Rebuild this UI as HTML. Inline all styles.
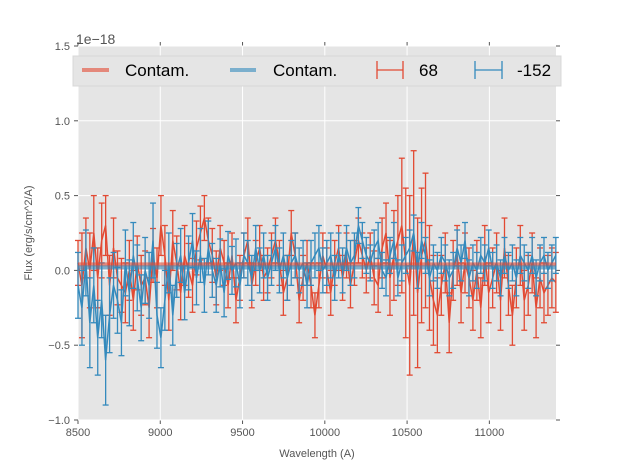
<!DOCTYPE html>
<html><head><meta charset="utf-8"><style>
html,body{margin:0;padding:0;background:#fff;}
svg{display:block;font-family:"Liberation Sans",sans-serif;}
</style></head><body>
<svg id="chart" width="617" height="467"></svg>
<script>
const redVals=[0.05,-0.1,0.15,0.0,0.25,-0.05,0.2,0.3,-0.1,0.15,-0.05,-0.1,-0.15,0.0,-0.2,0.05,-0.1,-0.05,-0.25,0.1,-0.05,
0.3,0.1,-0.2,0.2,0.05,-0.15,0.1,0.0,-0.1,0.15,0.25,0.35,0.2,0.1,-0.05,0.15,0.05,-0.1,0.1,-0.2,
-0.05,0.1,0.2,-0.1,0.05,0.15,-0.05,0.0,0.1,0.2,0.05,-0.15,-0.05,0.25,0.1,-0.2,-0.05,0.05,-0.1,-0.3,
-0.1,0.1,0.0,-0.15,0.05,0.15,-0.05,0.1,-0.1,0.05,0.2,0.1,0.0,0.1,-0.05,-0.1,0.15,0.25,-0.05,0.1,
0.2,0.3,0.05,-0.1,0.25,-0.15,0.1,0.2,-0.05,-0.2,-0.3,-0.1,0.05,-0.35,0.0,0.1,-0.15,0.05,-0.05,-0.2,
0.0,-0.25,0.1,-0.15,-0.05,0.05,-0.2,0.15,-0.1,-0.3,-0.05,0.1,-0.2,-0.1,0.05,-0.25,-0.05,-0.15,-0.1,-0.05,-0.08];
const redErr=[0.15,0.35,0.2,0.25,0.25,0.2,0.25,0.2,0.2,0.2,0.18,0.18,0.2,0.2,0.2,0.18,0.2,0.18,0.2,0.18,0.2,
0.2,0.2,0.2,0.2,0.18,0.18,0.2,0.18,0.18,0.18,0.18,0.15,0.15,0.18,0.18,0.15,0.15,0.15,0.15,0.15,
0.15,0.15,0.15,0.15,0.15,0.15,0.15,0.15,0.15,0.15,0.15,0.15,0.15,0.15,0.15,0.15,0.15,0.15,0.15,0.15,
0.15,0.15,0.15,0.15,0.15,0.15,0.15,0.15,0.15,0.15,0.15,0.15,0.15,0.15,0.18,0.18,0.2,0.2,0.25,0.3,
0.3,0.45,0.5,0.6,0.55,0.5,0.45,0.45,0.35,0.3,0.25,0.2,0.2,0.2,0.2,0.2,0.2,0.2,0.2,0.2,
0.2,0.2,0.2,0.2,0.2,0.2,0.2,0.2,0.2,0.2,0.2,0.2,0.2,0.2,0.2,0.2,0.2,0.2,0.2,0.2,0.2];
const blueVals=[-0.1,-0.25,0.05,-0.35,-0.1,-0.45,-0.2,-0.6,-0.3,-0.1,-0.2,-0.35,0.05,-0.15,0.1,-0.05,-0.25,0.0,-0.1,0.2,-0.3,
-0.45,-0.2,0.05,-0.3,0.0,0.1,-0.15,0.05,0.2,-0.05,0.1,-0.1,0.15,0.0,-0.1,0.05,-0.15,0.1,0.0,0.05,
-0.1,0.1,0.05,-0.05,0.15,0.0,0.1,-0.05,0.05,0.15,0.0,0.1,-0.05,0.05,0.1,0.0,0.05,-0.1,0.05,0.1,
0.15,0.0,0.05,0.1,-0.05,0.1,0.0,0.15,0.05,0.1,0.3,0.2,0.1,0.05,0.15,0.2,0.0,-0.05,0.1,0.2,
-0.05,0.05,0.1,0.15,0.25,0.0,0.2,0.1,-0.05,0.05,0.0,0.1,0.05,-0.05,0.0,0.15,0.05,0.2,-0.05,0.05,
0.0,0.1,0.05,0.15,0.0,0.05,-0.05,0.1,0.0,0.05,-0.05,0.1,0.05,0.0,0.1,-0.05,0.05,0.1,0.0,0.05,0.1];
const blueErr=[0.22,0.25,0.22,0.3,0.25,0.25,0.25,0.3,0.25,0.22,0.22,0.22,0.22,0.22,0.22,0.22,0.22,0.22,0.22,0.25,0.22,
0.2,0.2,0.2,0.2,0.18,0.18,0.18,0.18,0.18,0.18,0.18,0.18,0.18,0.18,0.18,0.16,0.16,0.16,0.16,0.16,
0.15,0.15,0.15,0.15,0.15,0.15,0.15,0.15,0.15,0.15,0.15,0.15,0.15,0.15,0.15,0.15,0.15,0.15,0.15,0.15,
0.15,0.15,0.15,0.15,0.15,0.15,0.15,0.15,0.15,0.15,0.12,0.12,0.12,0.12,0.12,0.12,0.12,0.12,0.12,0.12,
0.12,0.12,0.12,0.12,0.12,0.12,0.12,0.12,0.12,0.12,0.12,0.12,0.12,0.12,0.12,0.12,0.12,0.12,0.12,0.12,
0.12,0.12,0.12,0.12,0.12,0.12,0.12,0.12,0.12,0.12,0.12,0.12,0.12,0.12,0.12,0.12,0.12,0.12,0.12,0.12,0.12];
const redContam=0.04;
const blueContam=0.02;
const waveStart=8500, waveStep=24;
const xTicks=[8500,9000,9500,10000,10500,11000];
const yTicks=[-1.0,-0.5,0.0,0.5,1.0,1.5];
const yTickLabels=["\u22121.0","\u22120.5","0.0","0.5","1.0","1.5"];

const L=78,R=556,T=46,B=420,XMIN=8500,XMAX=11405,YMIN=-1,YMAX=1.5;
const sx=v=>L+(v-XMIN)/(XMAX-XMIN)*(R-L);
const sy=v=>B-(v-YMIN)/(YMAX-YMIN)*(B-T);
const NS="http://www.w3.org/2000/svg";
const svg=document.getElementById('chart');
function mk(tag,attrs,parent){const e=document.createElementNS(NS,tag);for(const k in attrs)e.setAttribute(k,attrs[k]);(parent||svg).appendChild(e);return e;}

const bg=mk('rect',{x:L,y:T,width:R-L,height:B-T,fill:'#e5e5e5'});


xTicks.forEach(t=>{const g=mk('line',{x1:sx(t),x2:sx(t),y1:T,y2:B,stroke:'#fff','stroke-width':1});


const tk=mk('line',{x1:sx(t),x2:sx(t),y1:B,y2:B+4,stroke:'#555'});


mk('line',{x1:sx(t),x2:sx(t),y1:T-4,y2:T,stroke:'#555'});
const tx=mk('text',{x:sx(t),y:B+16,'text-anchor':'middle','font-size':11,fill:'#555'});tx.textContent=t;

});
yTicks.forEach((t,i)=>{const g=mk('line',{x1:L,x2:R,y1:sy(t),y2:sy(t),stroke:'#fff','stroke-width':1});


mk('line',{x1:L-4,x2:L,y1:sy(t),y2:sy(t),stroke:'#555'});
mk('line',{x1:R,x2:R+4,y1:sy(t),y2:sy(t),stroke:'#555'});
const tx=mk('text',{x:L-8,y:sy(t)+4,'text-anchor':'end','font-size':11,fill:'#555'});tx.textContent=yTickLabels[i];

});

function series(vals,errs,color,name){
  const g=mk('g',{});
  
  
  vals.forEach((v,i)=>{const x=sx(waveStart+i*waveStep);const y1=sy(v+errs[i]),y2=sy(v-errs[i]);
    mk('line',{x1:x,x2:x,y1:y1,y2:y2,stroke:color,'stroke-width':1.3},g);
    mk('line',{x1:x-3,x2:x+3,y1:y1,y2:y1,stroke:color,'stroke-width':1.3},g);
    mk('line',{x1:x-3,x2:x+3,y1:y2,y2:y2,stroke:color,'stroke-width':1.3},g);});
  const pts=vals.map((v,i)=>sx(waveStart+i*waveStep).toFixed(1)+','+sy(v).toFixed(1)).join(' ');
  mk('polyline',{points:pts,fill:'none',stroke:color,'stroke-width':1.5},g);
}
series(redVals,redErr,'#E24A33','red-series-68');
series(blueVals,blueErr,'#348ABD','blue-series-152');
const rc=mk('line',{x1:L,x2:R,y1:sy(redContam),y2:sy(redContam),stroke:'#E24A33','stroke-width':4,'stroke-opacity':0.6});


const bc=mk('line',{x1:L,x2:R,y1:sy(blueContam),y2:sy(blueContam),stroke:'#348ABD','stroke-width':4,'stroke-opacity':0.6});


</script>
<svg width="617" height="467" style="position:absolute;left:0;top:0">
  <text x="76" y="44" font-size="14" fill="#555">1e−18</text>
  <text x="317" y="457" font-size="11" fill="#555" text-anchor="middle">Wavelength (A)</text>
  <text transform="translate(32,233) rotate(-90)" font-size="11" fill="#555" text-anchor="middle">Flux (erg/s/cm^2/A)</text>
  <g>
    <rect x="73" y="56" width="488" height="30" fill="#e5e5e5" stroke="#d8d8d8"/>
    <g>
      <line x1="82" x2="109" y1="70" y2="70" stroke="#E24A33" stroke-opacity="0.6" stroke-width="4"/>
      <text x="125" y="76" font-size="17" fill="#000">Contam.</text>
    </g>
    <g>
      <line x1="230" x2="256" y1="70" y2="70" stroke="#348ABD" stroke-opacity="0.6" stroke-width="4"/>
      <text x="273" y="76" font-size="17" fill="#000">Contam.</text>
    </g>
    <g stroke="#E24A33" stroke-width="1.3">
      <line x1="377" x2="403" y1="70" y2="70"/><line x1="377" x2="377" y1="61" y2="79"/><line x1="403" x2="403" y1="61" y2="79"/>
      <text x="419" y="76" font-size="17" fill="#000" stroke="none">68</text>
    </g>
    <g stroke="#348ABD" stroke-width="1.3">
      <line x1="475" x2="502" y1="70" y2="70"/><line x1="475" x2="475" y1="61" y2="79"/><line x1="502" x2="502" y1="61" y2="79"/>
      <text x="517" y="76" font-size="17" fill="#000" stroke="none">-152</text>
    </g>
  </g>
</svg>
</body></html>
